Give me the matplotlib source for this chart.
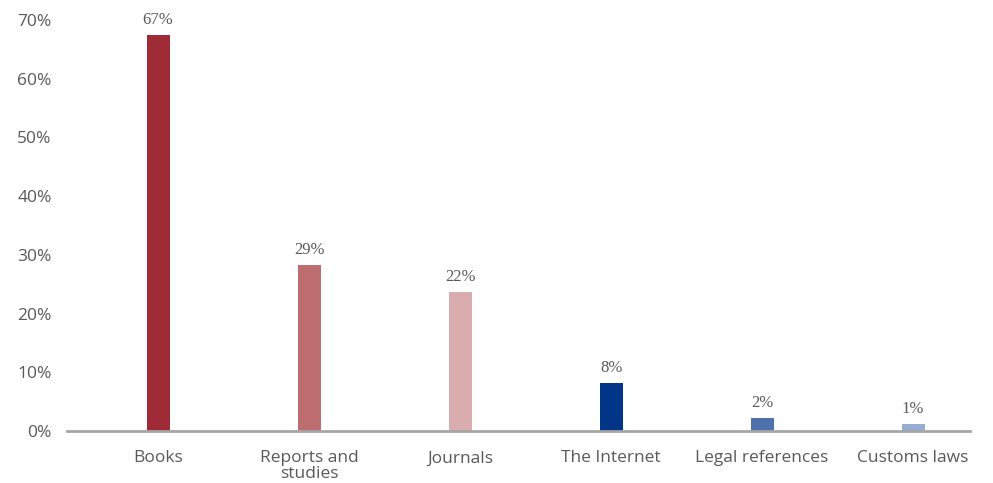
import matplotlib
matplotlib.use("Agg")
import matplotlib.pyplot as plt
import numpy as np

categories = ["Books", "Reports and\nstudies", "Journals", "The Internet", "Legal references", "Customs laws"]
values = [67.5, 28.3, 23.6, 8.2, 2.2, 1.2]
value_labels = ["67%", "29%", "22%", "8%", "2%", "1%"]
colors = ["#9E2B35", "#BD6D6F", "#D9ACAF", "#003587", "#4F71AE", "#96AED3"]
yticks = [0, 10, 20, 30, 40, 50, 60, 70]

fig = plt.figure(figsize=(9.93, 4.83), dpi=100)
ax = fig.add_axes([67/993, 52/483, (970-67)/993, (431-20)/483])

x = np.arange(len(categories))
ax.bar(x, values, width=0.152, color=colors, zorder=2)
ax.set_xlim(-0.603, len(categories) - 1 + 0.377)
ax.set_ylim(0, 70)

text_color = "#595959"
ax.set_yticks(yticks)
ax.set_yticklabels([f"{t}%" for t in yticks], fontsize=12.5, color=text_color, family="Open Sans")
ax.set_xticks(x)
ax.set_xticklabels(categories, fontsize=12.5, color=text_color, family="Open Sans", linespacing=1.0)
ax.tick_params(axis="both", length=0)
ax.tick_params(axis="y", pad=11)
ax.tick_params(axis="x", pad=14)

for s in ["top", "right", "left"]:
    ax.spines[s].set_visible(False)
ax.spines["bottom"].set_color("#A6A6A6")
ax.spines["bottom"].set_linewidth(2)
ax.spines["bottom"].set_zorder(3)

for xi, v, lab in zip(x, values, value_labels):
    ax.annotate(lab, (xi, v), xytext=(0, 5), textcoords="offset points",
                ha="center", va="bottom", fontsize=12, color=text_color,
                family="Liberation Serif")

fig.savefig("out.png", dpi=100)
